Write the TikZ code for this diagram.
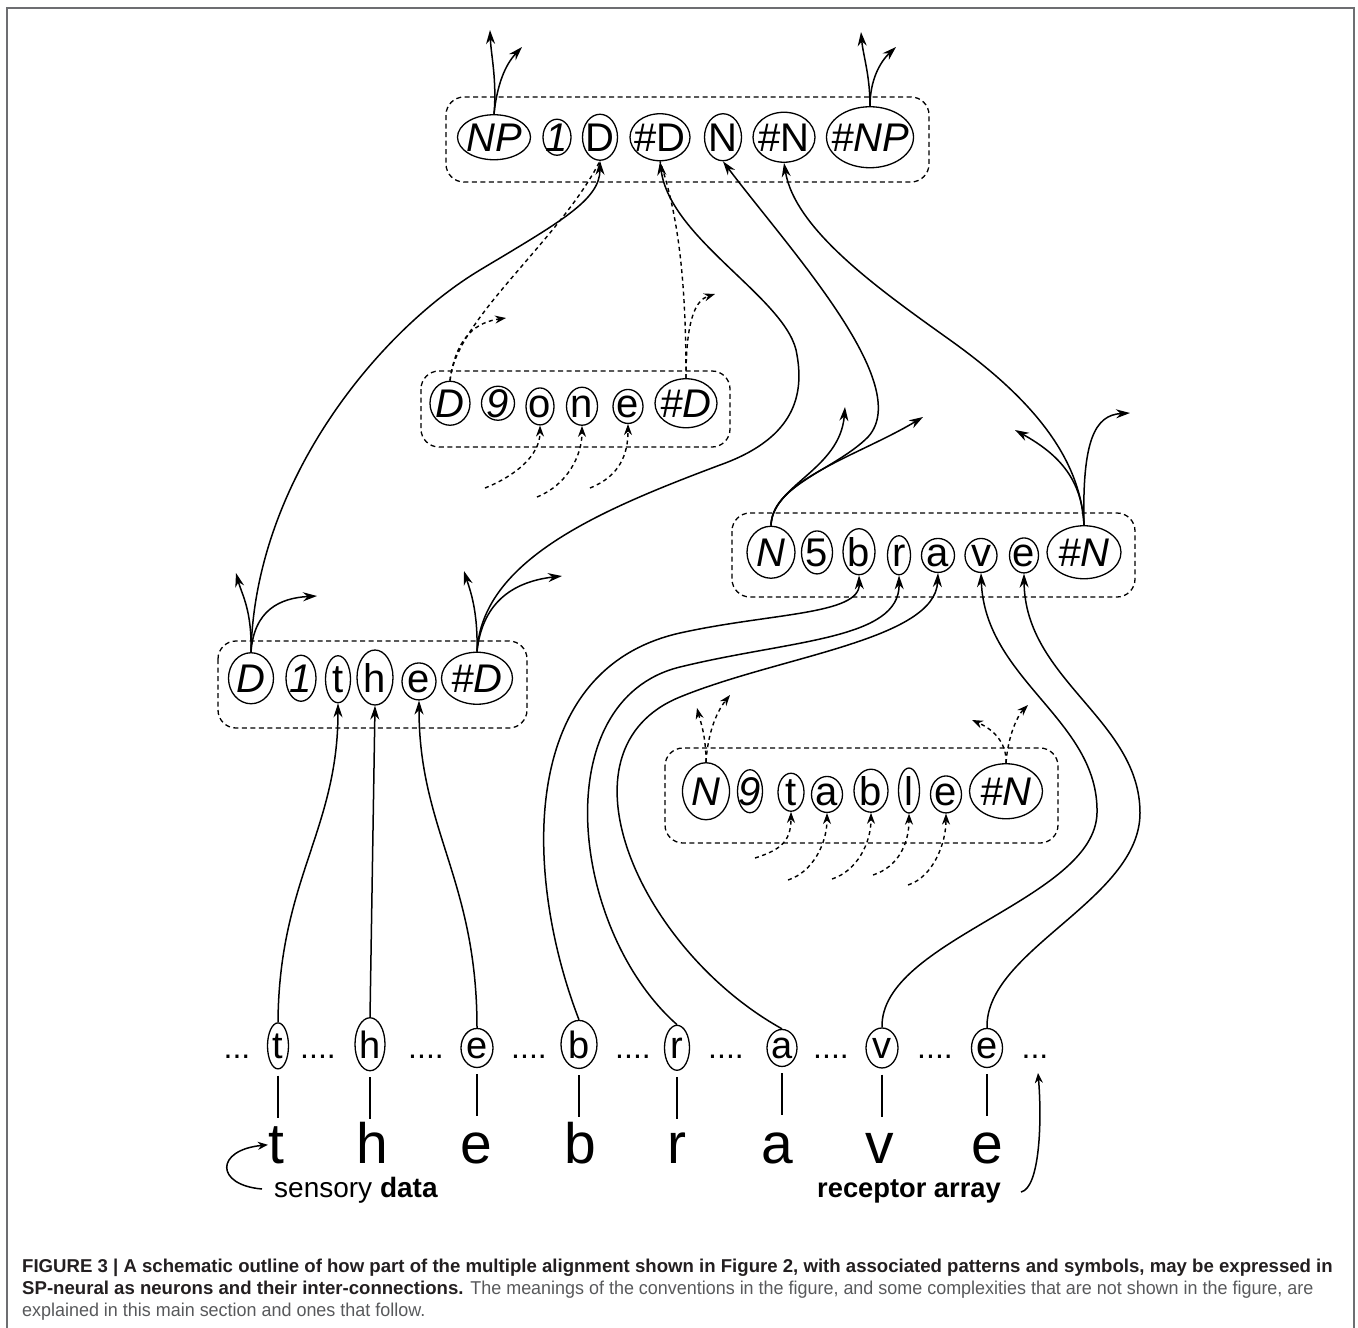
\documentclass[tikz,border=0pt]{standalone}
\usepackage{fontspec}
\setmainfont{Liberation Sans}
\newfontfamily\capreg[FakeStretch=0.965]{Liberation Sans}
\usetikzlibrary{shapes.geometric,arrows.meta}

\definecolor{capdark}{HTML}{231F20}
\definecolor{capgray}{HTML}{58595B}
\definecolor{framegray}{HTML}{6D6E71}

\tikzset{
  sym/.style 2 args={ellipse, draw, line width=1.3pt, inner sep=-6pt,
    minimum width=#1pt, minimum height=#2pt, anchor=base,
    font=\fontsize{40}{48}\selectfont},
  grp/.style={line width=1.3pt, dash pattern=on 5pt off 3.5pt, rounded corners=18pt},
  link/.style={line width=1.5pt, -{Stealth[length=14pt,width=9pt]}},
  dlink/.style={line width=1.4pt, dash pattern=on 4pt off 3.5pt, -{Stealth[length=11pt,width=8pt]}},
  letter/.style={anchor=base, inner sep=0pt, font=\fontsize{57}{66}\selectfont},
  dots/.style={anchor=base, inner sep=0pt, font=\fontsize{32}{38}\selectfont},
  lbl/.style={anchor=base west, inner sep=0pt, font=\fontsize{28}{32}\selectfont},
  capt/.style={anchor=base west, inner sep=0pt, text=capdark, font=\fontsize{18.6}{22}\selectfont},
}

\begin{document}
\begin{tikzpicture}[x=1pt, y=-1pt]
\useasboundingbox (0,0) rectangle (1358,1328);
\draw[framegray, line width=2pt] (7,1328) -- (7,8) -- (1354,8) -- (1354,1328);

% pattern boxes
\draw[grp] (446,97) rectangle (929,182);
\draw[grp] (421,371) rectangle (730,447);
\draw[grp] (218,641) rectangle (527,728);
\draw[grp] (732,513) rectangle (1135,597);
\draw[grp] (665,748) rectangle (1058,843);

% NP 1 D #D N #N #NP
\foreach \nm/\lab/\x/\w/\h in {npNP/\textit{NP}/494/73/45, np1/\textit{1}/557/28/36,
    npD/D/600/35/46, npHD/\#D/660/60/47, npN/N/723/37/47, npHN/\#N/784/62/50,
    npHNP/\textit{\#NP}/870/87/61}
  \node[sym={\w}{\h}] (\nm) at (\x,151) {\makebox[0pt]{\lab}};

% D 9 o n e #D
\foreach \nm/\lab/\x/\w/\h in {d9D/\textit{D}/450/40/44, d9n9/\textit{9}/498/33/34,
    d9o/o/540/28/37, d9n/n/582/31/38, d9e/e/628/30/34, d9HD/\textit{\#D}/686/62/49}
  \node[sym={\w}{\h}] (\nm) at (\x,417) {\makebox[0pt]{\lab}};

% D 1 t h e #D
\foreach \nm/\lab/\x/\w/\h in {d1D/\textit{D}/251/45/51, d1n1/\textit{1}/301/30/46,
    d1t/t/338/25/47, d1h/h/375/36/55, d1e/e/419/34/37, d1HD/\textit{\#D}/477/71/52}
  \node[sym={\w}{\h}] (\nm) at (\x,692) {\makebox[0pt]{\lab}};

% N 5 b r a v e #N
\foreach \nm/\lab/\x/\w/\h in {n5N/\textit{N}/771/48/52, n5n5/5/817/31/43,
    n5b/b/859/32/46, n5r/r/899/23/39, n5a/a/938/33/34, n5v/v/981/32/34,
    n5e/e/1024/29/35, n5HN/\textit{\#N}/1084/74/53}
  \node[sym={\w}{\h}] (\nm) at (\x,566) {\makebox[0pt]{\lab}};

% N 9 t a b l e #N
\foreach \nm/\lab/\x/\w/\h in {n9N/\textit{N}/706/47/57, n9n9/\textit{9}/750/25/43,
    n9t/t/791/26/38, n9a/a/827/31/36, n9b/b/871/34/43, n9l/l/909/21/45,
    n9e/e/946/31/37, n9HN/\textit{\#N}/1006/73/55}
  \node[sym={\w}{\h}] (\nm) at (\x,805) {\makebox[0pt]{\lab}};

% receptor array
\foreach \nm/\lab/\x/\w/\h in {rt/t/278/21/46, rh/h/370/30/53, re1/e/477/32/39,
    rb/b/579/36/48, rr/r/677/25/45, ra/a/782/30/37, rv/v/882/32/40, re2/e/987/31/39}
  \node[sym={\w}{\h}, font=\fontsize{38}{46}\selectfont] (\nm) at (\x,1058) {\makebox[0pt]{\lab}};
\node[dots] (dotA) at (237,1058) {...};
\foreach \nm/\x in {dotB/318, dotC/426, dotD/529, dotE/633, dotF/726, dotG/831, dotH/935}
  \node[dots] (\nm) at (\x,1058) {....};
\node[dots] (dotI) at (1035,1058) {...};

% sensory data
\foreach \nm/\lab/\x in {st/t/276, sh/h/372, se1/e/476, sb/b/580, sr/r/677, sa/a/777, sv/v/880, se2/e/987}
  \node[letter] (\nm) at (\x,1163) {\lab};
\foreach \nm in {rt, rh, re1, rb, rr, ra, rv, re2}
  \draw[line width=1.4pt] ([yshift=-6pt]\nm.south) -- +(0,42);

\node[lbl] (sens) at (274,1197) {sensory \textbf{data}};
\node[lbl, font=\fontsize{27.3}{32}\selectfont] (recep) at (817,1197) {\textbf{receptor array}};

% free ends
\foreach \nm/\x/\y in {npUp/490/30, npRt/522/47, hnpUp/861/32, hnpRt/896/47,
    d9Rt/506/318, d9hRt/715/294, d9oIn/485/488, d9nIn/537/497, d9eIn/590/488,
    d1Lf/236/573, d1Rt/317/596, d1hLf/464/571, d1hRt/562/576,
    n5Up/845/407, n5Rt/923/417, n5hLf/1015/430, n5hRt/1130/413,
    n9Lf/697/708, n9Rt/730/695, n9hLf/972/720, n9hRt/1028/705,
    n9tIn/755/858, n9aIn/788/880, n9bIn/832/879, n9lIn/873/875, n9eIn/908/885,
    sensIn/262/1189, recIn/1021/1192, recOut/1038/1073}
  \coordinate (\nm) at (\x,\y);

% top pattern
\draw[link] (npNP.north) .. controls (497,80) and (491,55) .. (npUp);
\draw[link] (npNP.north) .. controls (497,85) and (505,65) .. (npRt);
\draw[link] (npHNP.north) .. controls (870,75) and (863,55) .. (hnpUp);
\draw[link] (npHNP.north) .. controls (870,80) and (880,62) .. (hnpRt);

% D 9 o n e #D
\draw[dlink, -] (d9D.north) .. controls (455,320) and (560,240) .. (npD.south);
\draw[dlink] (d9D.north) .. controls (456,335) and (478,322) .. (d9Rt);
\draw[dlink, -] (d9HD.north) .. controls (686,290) and (680,220) .. (npHD.south);
\draw[dlink] (d9HD.north) .. controls (686,318) and (696,300) .. (d9hRt);
\foreach \a/\b in {d9oIn/d9o, d9nIn/d9n, d9eIn/d9e}
  \draw[dlink] (\a) .. controls +(30,-12) and +(0,30) .. (\b.south);

% D 1 t h e #D
\draw[link] (d1D.north) .. controls (255,480) and (380,330) .. (480,270)
  .. controls (560,222) and (600,200) .. (npD.south);
\draw[link] (d1D.north) .. controls (252,610) and (242,595) .. (d1Lf);
\draw[link] (d1D.north) .. controls (254,610) and (280,598) .. (d1Rt);
\draw[link] (d1HD.north) .. controls (482,560) and (600,510) .. (720,465)
  .. controls (790,440) and (805,400) .. (797,355)
  .. controls (790,300) and (670,240) .. (npHD.south);
\draw[link] (d1HD.north) .. controls (478,610) and (470,590) .. (d1hLf);
\draw[link] (d1HD.north) .. controls (482,605) and (510,582) .. (d1hRt);

% N 5 b r a v e #N
\draw[link] (n5N.north) .. controls (772,485) and (835,470) .. (868,437)
  .. controls (915,385) and (790,250) .. (npN.south);
\draw[link] (n5N.north) .. controls (772,485) and (840,470) .. (n5Up);
\draw[link] (n5N.north) .. controls (772,480) and (860,455) .. (n5Rt);
\draw[link] (n5HN.north) .. controls (1080,450) and (1020,390) .. (950,340)
  .. controls (880,290) and (795,230) .. (npHN.south);
\draw[link] (n5HN.north) .. controls (1082,480) and (1060,455) .. (n5hLf);
\draw[link] (n5HN.north) .. controls (1082,440) and (1095,415) .. (n5hRt);

% N 9 t a b l e #N
\draw[dlink] (n9N.north) .. controls (706,735) and (700,720) .. (n9Lf);
\draw[dlink] (n9N.north) .. controls (708,730) and (718,710) .. (n9Rt);
\draw[dlink] (n9HN.north) .. controls (1007,740) and (990,728) .. (n9hLf);
\draw[dlink] (n9HN.north) .. controls (1008,735) and (1018,715) .. (n9hRt);
\foreach \a/\b in {n9tIn/n9t, n9aIn/n9a, n9bIn/n9b, n9lIn/n9l, n9eIn/n9e}
  \draw[dlink] (\a) .. controls +(25,-8) and +(0,30) .. (\b.south);

% receptors up to the patterns
\draw[link] (rt.north) .. controls (279,880) and (338,830) .. (d1t.south);
\draw[link] (rh.north) -- (d1h.south);
\draw[link] (re1.north) .. controls (477,880) and (419,830) .. (d1e.south);
\draw[link] (rb.north) .. controls (525,880) and (515,670) .. (680,633)
  .. controls (770,613) and (860,615) .. (n5b.south);
\draw[link] (rr.north) .. controls (570,930) and (545,700) .. (680,667)
  .. controls (790,640) and (900,640) .. (n5r.south);
\draw[link] (ra.north) .. controls (640,950) and (550,750) .. (680,697)
  .. controls (780,656) and (935,640) .. (n5a.south);
\draw[link] (rv.north) .. controls (880,940) and (1095,900) .. (1097,813)
  .. controls (1099,720) and (985,680) .. (n5v.south);
\draw[link] (re2.north) .. controls (985,950) and (1140,900) .. (1140,813)
  .. controls (1140,720) and (1025,680) .. (n5e.south);

\draw[link, -{Stealth[length=10pt,width=8pt]}] (sensIn) .. controls (215,1185) and (215,1150) .. (st.west);
\draw[link, -{Stealth[length=10pt,width=8pt]}] (recIn) .. controls (1040,1188) and (1042,1120) .. (recOut);

% caption
\node[capt] (capA) at (22,1272) {\bfseries FIGURE 3 | A schematic outline of how part of the multiple alignment shown in Figure 2, with associated patterns and symbols, may be expressed in};
\node[capt] (capB) at (22,1294) {\textbf{SP-neural as neurons and their inter-connections.} {\capreg\color{capgray}The meanings of the conventions in the figure, and some complexities that are not shown in the figure, are}};
\node[capt, text=capgray] (capC) at (22,1316) {\capreg explained in this main section and ones that follow.};

\end{tikzpicture}
\end{document}
